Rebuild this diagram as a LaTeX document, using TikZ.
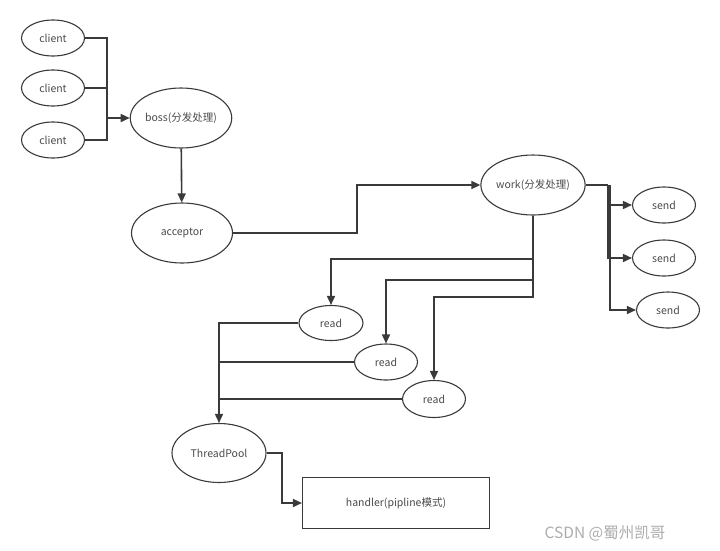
\documentclass[tikz,border=0pt]{standalone}
\usepackage{fontspec}
\setmainfont{Noto Sans CJK SC}
\usetikzlibrary{positioning, arrows.meta, shapes.geometric, calc}
\definecolor{edge}{HTML}{3A3A3A}
\definecolor{txt}{HTML}{4A4A4A}
\tikzset{
  oval/.style={draw=edge, ellipse, line width=1.1pt, inner sep=0pt, font=\fontsize{10.5}{12}\selectfont, text=txt},
  small/.style={oval, minimum width=63pt, minimum height=36pt},
  big/.style={oval, minimum width=101pt, minimum height=60pt},
  box/.style={draw=edge, line width=1.1pt, minimum width=187pt, minimum height=51pt, font=\fontsize{10.5}{12}\selectfont, text=txt},
  wire/.style={draw=edge, line width=1.6pt},
  arr/.style={wire, -{Triangle[length=9pt, width=8pt]}},
  wmark/.style={font=\fontsize{15.5}{18}\selectfont, text=gray!65}
}

\begin{document}
\begin{tikzpicture}[x=1pt, y=-1pt]
\useasboundingbox (0,0) rectangle (720,550);
% nodes
\node[small] (c1) at (53,38) {client};
\node[small] (c2) at (53,88) {client};
\node[small] (c3) at (53,140) {client};
\node[big] (boss) at (181,118) {boss(分发处理)};
\node[big] (acc) at (182,233) {acceptor};
\node[big] (work) at (533,185) {work(分发处理)};
\node[small] (s1) at (664,205) {send};
\node[small] (s2) at (664,258) {send};
\node[small] (s3) at (668,310) {send};
\node[small, minimum width=64pt, minimum height=35pt] (r1) at (331,323) {read};
\node[small] (r2) at (386,362) {read};
\node[small, minimum height=37pt] (r3) at (434,399) {read};
\node[big, minimum width=94pt, minimum height=59pt] (tp) at (219,453) {ThreadPool};
\node[box] (hd) at (396,503) {handler(pipline模式)};
\node[wmark] (wm) at (605,533) {CSDN @蜀州凯哥};
% helper points
\coordinate (cbus) at (107,118);
\coordinate (jog) at (357,185);
\coordinate (wsplit) at (608,185);
\coordinate (t1) at (331,259);
\coordinate (t2) at (386,280);
\coordinate (t3) at (434,297);
\coordinate (hbend) at (282,453);
% connectors
\draw[wire] (c1.east) -| (cbus);
\draw[wire] (c2.east) -| (cbus);
\draw[wire] (c3.east) -| (cbus);
\draw[arr] (cbus) -- (boss);
\draw[arr] (boss) -- (acc);
\draw[arr] (acc.east) -| (jog) -- (work.west);
\draw[wire] (work.east) -- (wsplit);
\draw[arr] (wsplit) |- (s1.west);
\draw[arr] (wsplit) |- (s2.west);
\draw[arr] ($(wsplit)+(2,0)$) |- (s3.west);
\draw[arr] (work.south) |- (t1) -- (r1.north);
\draw[arr] (work.south) |- (t2) -- (r2.north);
\draw[arr] (work.south) |- (t3) -- (r3.north);
\draw[arr] (r1.west) -| (tp.north);
\draw[wire] (r2.west) -- (r2.west -| tp.north);
\draw[wire] (r3.west) -- (r3.west -| tp.north);
\draw[arr] (tp.east) -- (hbend) |- (hd.west);
\end{tikzpicture}
\end{document}
